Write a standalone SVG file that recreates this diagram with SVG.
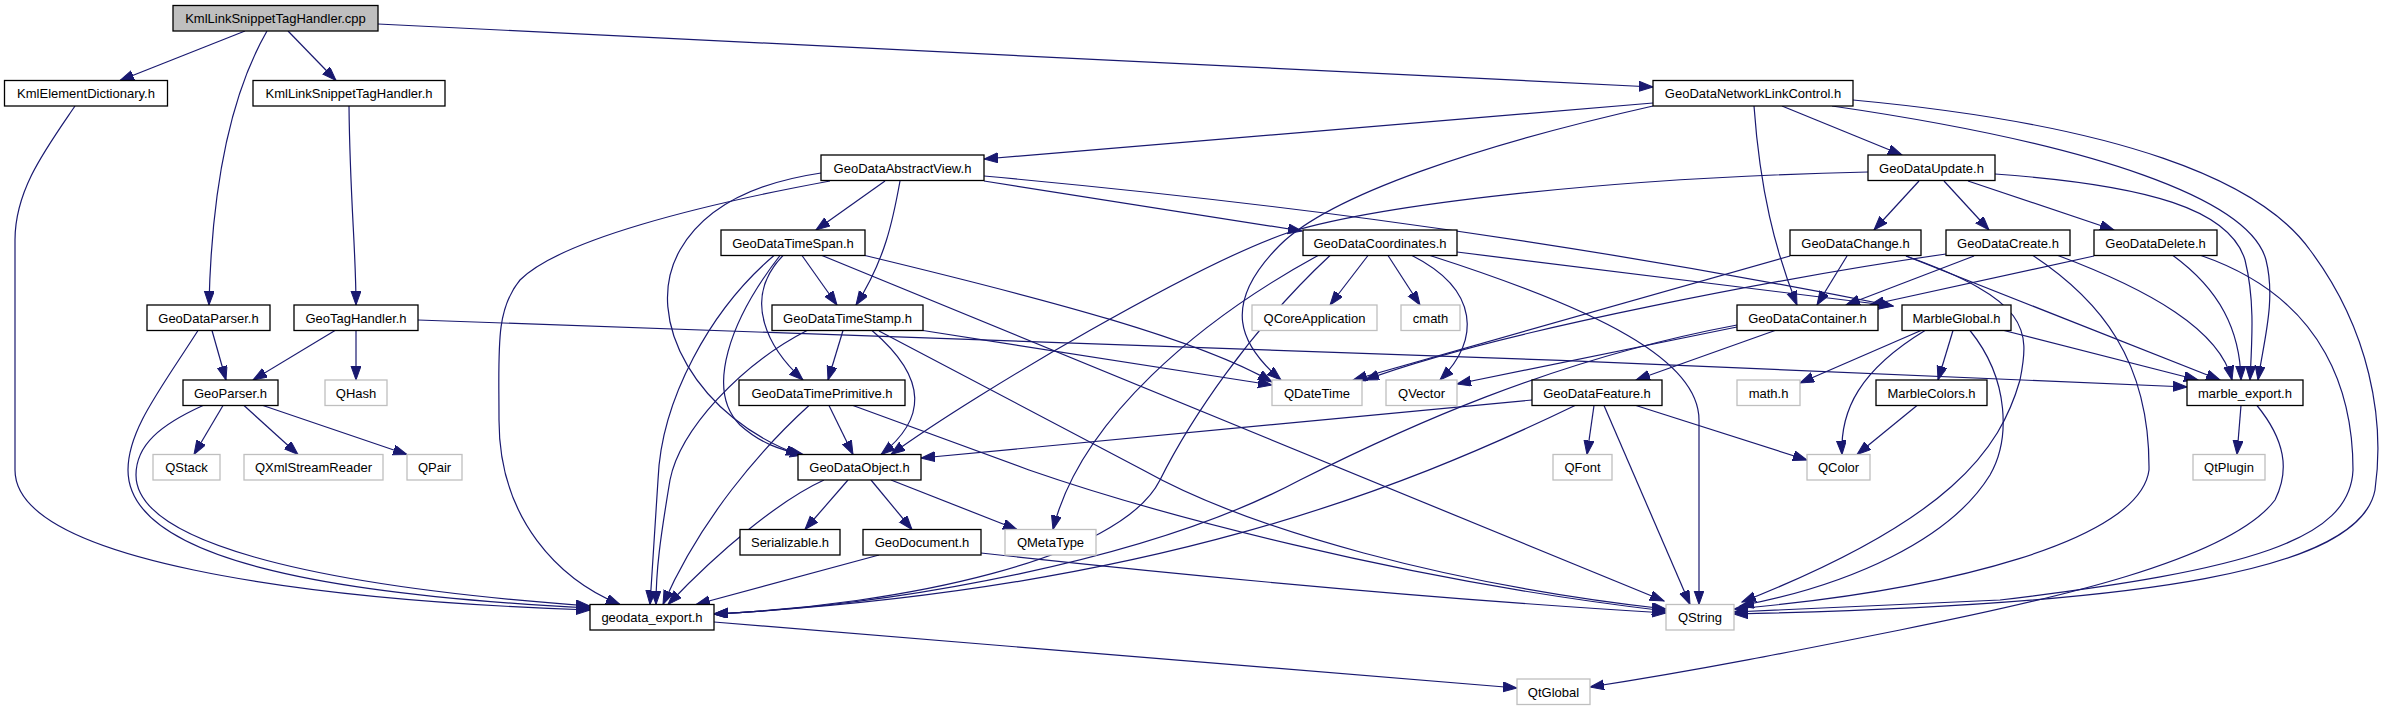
<svg xmlns="http://www.w3.org/2000/svg" width="2394" height="709" viewBox="0 0 2394 709">
<style>
.node rect{fill:#fff;stroke:#000;stroke-width:1.3}
.node.ext rect{stroke:#bfbfbf}
.node.cur rect{fill:#bfbfbf}
.node text{font-family:"Liberation Sans",Arial,Helvetica,sans-serif;font-size:13px;text-anchor:middle;fill:#000}
#edges path{fill:none;stroke:#191970;stroke-width:1.2;marker-end:url(#ah)}
</style>
<defs>
<marker id="ah" markerUnits="userSpaceOnUse" markerWidth="15" markerHeight="11" refX="14" refY="5" orient="auto">
<path d="M0,0 L14,5 L0,10 z" fill="#191970" stroke="#191970" stroke-width="1"/>
</marker>
</defs>
<rect width="2394" height="709" fill="#fff"/>
<g id="edges">
<path d="M245,31 L120,80.5"/>
<path d="M267,31 C236,85 212,170 209,305"/>
<path d="M288,31 L336,80.5"/>
<path d="M378,24 L1653,87"/>
<path d="M75,106 C45,150 15,190 15,240 L15,470 C15,560 300,600 590,610"/>
<path d="M349,106 C350,200 356,250 356,305"/>
<path d="M212,330.5 L226,380"/>
<path d="M198,330.5 C160,390 128,430 128,470 C128,560 330,595 590,608"/>
<path d="M335,330.5 L253,380"/>
<path d="M356,330.5 L356,380"/>
<path d="M418,320 C900,335 1600,360 2187,387"/>
<path d="M223,405.5 L194,454.5"/>
<path d="M244,405.5 L298,454.5"/>
<path d="M263,405.5 L407,454.5"/>
<path d="M203,405.5 C160,425 136,445 136,475 C136,540 300,585 590,606"/>
<path d="M1653,103 L984,159"/>
<path d="M1653,106 C1480,145 1330,195 1280,245 C1220,305 1240,345 1281,380"/>
<path d="M1754,106 C1760,190 1775,250 1797,305"/>
<path d="M1782,106 L1902,155"/>
<path d="M1832,106 C2100,145 2250,200 2266,260 C2276,300 2264,340 2258,380"/>
<path d="M1853,100 C2120,125 2260,180 2310,250 C2370,330 2385,420 2375,490 C2360,570 2150,605 1734,614"/>
<path d="M885,181 L816,230"/>
<path d="M900,181 C893,220 885,260 856,305"/>
<path d="M821,173 C740,185 700,215 680,250 C640,320 700,420 800,455"/>
<path d="M830,181 C700,205 560,240 520,280 C495,310 499,350 499,420 C499,520 560,580 620,604.5"/>
<path d="M984,181 L1302,231"/>
<path d="M984,176 C1200,196 1500,228 1893,306"/>
<path d="M774,255.5 C710,310 661,400 658,480 L650,604.5"/>
<path d="M780,255.5 C730,320 705,390 740,425 C760,443 780,450 804,455"/>
<path d="M783,255.5 C740,300 770,350 803,380"/>
<path d="M802,255.5 L837,305"/>
<path d="M822,255.5 L1664,601"/>
<path d="M865,255.5 C1050,300 1200,340 1272,382"/>
<path d="M807,330.5 C740,365 680,430 670,480 C660,540 656,570 656,604.5"/>
<path d="M843,330.5 L828,380"/>
<path d="M872,330.5 C930,380 925,420 881,454.5"/>
<path d="M879,331 L1143,470 C1250,530 1450,585 1666,609"/>
<path d="M923,330.5 L1272,385"/>
<path d="M809,405.5 C760,450 700,520 663,604.5"/>
<path d="M829,405.5 L853,454.5"/>
<path d="M853,405.5 L1029,470 C1150,512 1400,580 1666,611"/>
<path d="M824,480 C780,500 720,550 668,604.5"/>
<path d="M848,480 L805,529.5"/>
<path d="M871,480 L912,529.5"/>
<path d="M891,480 L1017,529.5"/>
<path d="M879,555 L696,604.5"/>
<path d="M981,553 C1200,577 1450,600 1666,613"/>
<path d="M1868,172 C1600,178 1380,205 1290,232 C1200,262 980,390 891,454.5"/>
<path d="M1919,181 L1874,230"/>
<path d="M1944,181 L1989,230"/>
<path d="M1968,181 L2114,230"/>
<path d="M1995,174 C2150,185 2230,210 2245,260 C2255,300 2252,340 2250,380"/>
<path d="M1368,255.5 L1330,305"/>
<path d="M1388,255.5 L1420,305"/>
<path d="M1412,255.5 C1480,290 1480,340 1440,380"/>
<path d="M1457,252 L1893,306"/>
<path d="M1430,255.5 C1600,310 1699,360 1699,420 L1699,604.5"/>
<path d="M1318,255.5 C1200,320 1080,420 1053,529.5"/>
<path d="M1330,255.5 C1250,330 1190,420 1160,480 C1120,560 900,605 714,614"/>
<path d="M1847,256 L1817,305"/>
<path d="M1790,256 L1353,380"/>
<path d="M1906,256 L2220,380"/>
<path d="M1906,256 C2030,300 2030,330 2020,380 C2000,450 1950,520 1742,602"/>
<path d="M1974,256 L1846,305"/>
<path d="M1946,254 C1800,275 1500,330 1365,380"/>
<path d="M2058,255.5 C2150,290 2220,330 2232,380"/>
<path d="M2033,255.5 C2100,300 2150,360 2149,470 C2140,540 1950,590 1734,609"/>
<path d="M2094,256 L1870,305"/>
<path d="M2173,255.5 C2220,290 2240,330 2241,380"/>
<path d="M2201,255.5 C2330,300 2353,400 2353,470 C2350,540 2250,570 2000,600 L1734,612"/>
<path d="M1775,330.5 L1636,380"/>
<path d="M1737,327 L1457,384"/>
<path d="M1737,325 C1550,360 1400,430 1300,480 C1150,560 900,605 714,614"/>
<path d="M1921,330.5 L1800,383"/>
<path d="M1925,330.5 C1860,370 1840,410 1842,454.5"/>
<path d="M1953,330.5 L1938,380"/>
<path d="M1970,330.5 C2010,380 2010,440 1990,475 C1950,540 1850,585 1740,606"/>
<path d="M2004,330.5 L2198,380"/>
<path d="M1532,400 L921,458"/>
<path d="M1594,405.5 L1587,454.5"/>
<path d="M1604,405.5 L1690,604.5"/>
<path d="M1636,405.5 L1807,460"/>
<path d="M1575,405.5 C1400,490 1150,590 714,614"/>
<path d="M1917,405.5 L1857,454.5"/>
<path d="M2241,405.5 L2237,454.5"/>
<path d="M2257,405.5 C2285,440 2290,470 2275,500 C2230,560 2050,600 1900,630 C1800,650 1700,670 1590,687"/>
<path d="M714,622 L1517,688"/>
</g>
<g id="n_cpp" class="node cur"><rect x="173" y="5.5" width="205" height="25.5"/><text x="275.5" y="23">KmlLinkSnippetTagHandler.cpp</text></g>
<g id="n_KmlElementDictionary" class="node"><rect x="4.5" y="80.5" width="163" height="25.5"/><text x="86" y="98">KmlElementDictionary.h</text></g>
<g id="n_KmlLinkSnippetTagHandler_h" class="node"><rect x="253" y="80.5" width="192" height="25.5"/><text x="349" y="98">KmlLinkSnippetTagHandler.h</text></g>
<g id="n_GeoDataNetworkLinkControl" class="node"><rect x="1653" y="80.5" width="200" height="25.5"/><text x="1753" y="98">GeoDataNetworkLinkControl.h</text></g>
<g id="n_GeoDataAbstractView" class="node"><rect x="821" y="155" width="163" height="25.5"/><text x="902.5" y="172.5">GeoDataAbstractView.h</text></g>
<g id="n_GeoDataUpdate" class="node"><rect x="1868" y="155" width="127" height="25.5"/><text x="1931.5" y="172.5">GeoDataUpdate.h</text></g>
<g id="n_GeoDataTimeSpan" class="node"><rect x="721" y="230" width="144" height="25.5"/><text x="793" y="247.5">GeoDataTimeSpan.h</text></g>
<g id="n_GeoDataCoordinates" class="node"><rect x="1303" y="230" width="154" height="25.5"/><text x="1380" y="247.5">GeoDataCoordinates.h</text></g>
<g id="n_GeoDataChange" class="node"><rect x="1790" y="230" width="131" height="25.5"/><text x="1855.5" y="247.5">GeoDataChange.h</text></g>
<g id="n_GeoDataCreate" class="node"><rect x="1946" y="230" width="124" height="25.5"/><text x="2008" y="247.5">GeoDataCreate.h</text></g>
<g id="n_GeoDataDelete" class="node"><rect x="2094" y="230" width="123" height="25.5"/><text x="2155.5" y="247.5">GeoDataDelete.h</text></g>
<g id="n_GeoDataParser" class="node"><rect x="147" y="305" width="123" height="25.5"/><text x="208.5" y="322.5">GeoDataParser.h</text></g>
<g id="n_GeoTagHandler" class="node"><rect x="294" y="305" width="124" height="25.5"/><text x="356" y="322.5">GeoTagHandler.h</text></g>
<g id="n_GeoDataTimeStamp" class="node"><rect x="772" y="305" width="151" height="25.5"/><text x="847.5" y="322.5">GeoDataTimeStamp.h</text></g>
<g id="n_QCoreApplication" class="node ext"><rect x="1252" y="305" width="125" height="25.5"/><text x="1314.5" y="322.5">QCoreApplication</text></g>
<g id="n_cmath" class="node ext"><rect x="1401" y="305" width="59" height="25.5"/><text x="1430.5" y="322.5">cmath</text></g>
<g id="n_GeoDataContainer" class="node"><rect x="1737" y="305" width="141" height="25.5"/><text x="1807.5" y="322.5">GeoDataContainer.h</text></g>
<g id="n_MarbleGlobal" class="node"><rect x="1902" y="305" width="109" height="25.5"/><text x="1956.5" y="322.5">MarbleGlobal.h</text></g>
<g id="n_GeoParser" class="node"><rect x="183" y="380" width="95" height="25.5"/><text x="230.5" y="397.5">GeoParser.h</text></g>
<g id="n_QHash" class="node ext"><rect x="325" y="380" width="62" height="25.5"/><text x="356" y="397.5">QHash</text></g>
<g id="n_GeoDataTimePrimitive" class="node"><rect x="739" y="380" width="166" height="25.5"/><text x="822" y="397.5">GeoDataTimePrimitive.h</text></g>
<g id="n_QDateTime" class="node ext"><rect x="1272" y="380" width="90" height="25.5"/><text x="1317" y="397.5">QDateTime</text></g>
<g id="n_QVector" class="node ext"><rect x="1386" y="380" width="71" height="25.5"/><text x="1421.5" y="397.5">QVector</text></g>
<g id="n_GeoDataFeature" class="node"><rect x="1532" y="380" width="130" height="25.5"/><text x="1597" y="397.5">GeoDataFeature.h</text></g>
<g id="n_math" class="node ext"><rect x="1737" y="380" width="63" height="25.5"/><text x="1768.5" y="397.5">math.h</text></g>
<g id="n_MarbleColors" class="node"><rect x="1876" y="380" width="111" height="25.5"/><text x="1931.5" y="397.5">MarbleColors.h</text></g>
<g id="n_marble_export" class="node"><rect x="2187" y="380" width="116" height="25.5"/><text x="2245" y="397.5">marble_export.h</text></g>
<g id="n_QStack" class="node ext"><rect x="153" y="454.5" width="67" height="25.5"/><text x="186.5" y="472">QStack</text></g>
<g id="n_QXmlStreamReader" class="node ext"><rect x="244" y="454.5" width="139" height="25.5"/><text x="313.5" y="472">QXmlStreamReader</text></g>
<g id="n_QPair" class="node ext"><rect x="407" y="454.5" width="55" height="25.5"/><text x="434.5" y="472">QPair</text></g>
<g id="n_GeoDataObject" class="node"><rect x="798" y="454.5" width="123" height="25.5"/><text x="859.5" y="472">GeoDataObject.h</text></g>
<g id="n_QFont" class="node ext"><rect x="1553" y="454.5" width="59" height="25.5"/><text x="1582.5" y="472">QFont</text></g>
<g id="n_QColor" class="node ext"><rect x="1807" y="454.5" width="63" height="25.5"/><text x="1838.5" y="472">QColor</text></g>
<g id="n_QtPlugin" class="node ext"><rect x="2193" y="454.5" width="72" height="25.5"/><text x="2229" y="472">QtPlugin</text></g>
<g id="n_Serializable" class="node"><rect x="740" y="529.5" width="100" height="25.5"/><text x="790" y="547">Serializable.h</text></g>
<g id="n_GeoDocument" class="node"><rect x="863" y="529.5" width="118" height="25.5"/><text x="922" y="547">GeoDocument.h</text></g>
<g id="n_QMetaType" class="node ext"><rect x="1005" y="529.5" width="91" height="25.5"/><text x="1050.5" y="547">QMetaType</text></g>
<g id="n_geodata_export" class="node"><rect x="590" y="604.5" width="124" height="25.5"/><text x="652" y="622">geodata_export.h</text></g>
<g id="n_QString" class="node ext"><rect x="1666" y="604.5" width="68" height="25.5"/><text x="1700" y="622">QString</text></g>
<g id="n_QtGlobal" class="node ext"><rect x="1517" y="679" width="73" height="25.5"/><text x="1553.5" y="696.5">QtGlobal</text></g>
</svg>
